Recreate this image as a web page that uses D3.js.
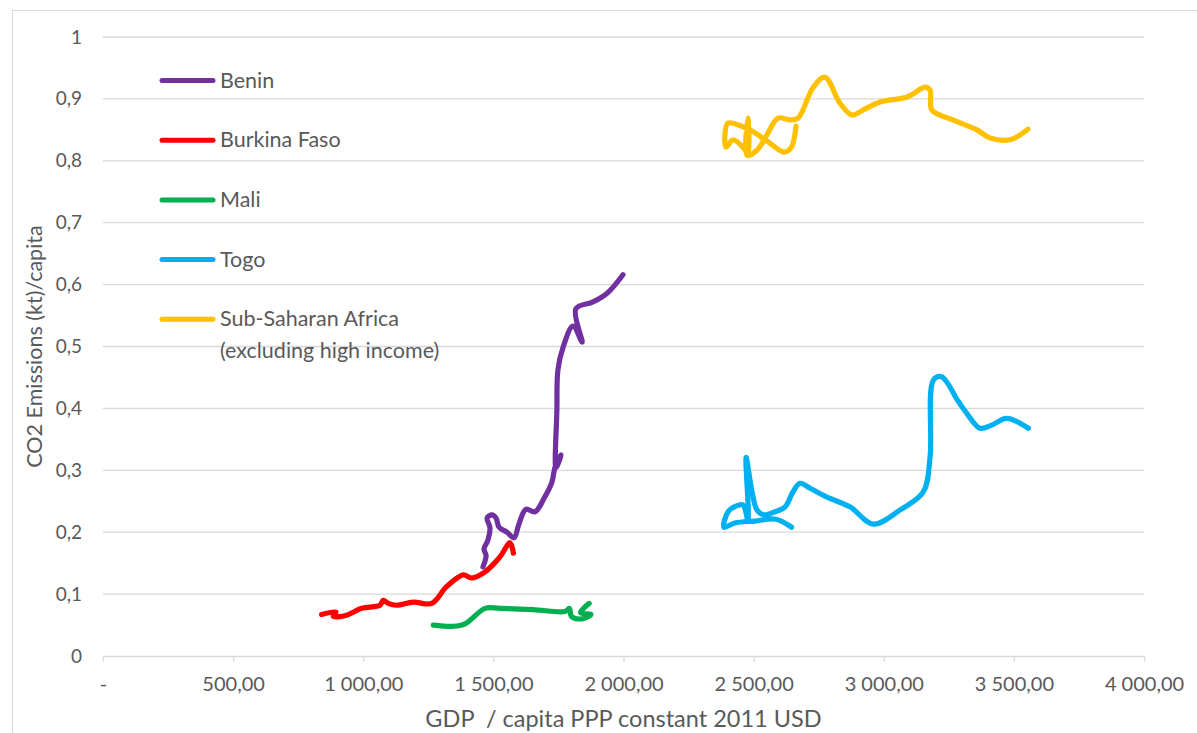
<!DOCTYPE html>
<html>
<head>
<meta charset="utf-8">
<script src="https://cdn.jsdelivr.net/npm/d3@7"></script>
<style>
  html, body { margin: 0; padding: 0; background: #fff; }
  svg { display: block; }
  text { font-family: Lato, "Liberation Sans", sans-serif; fill: #595959; }
</style>
</head>
<body>
<svg id="chart" width="1197" height="733"></svg>
<script>
// GDP per capita (PPP, constant 2011 USD) against CO2 emissions per capita
const beninGdp = [1460, 1472, 1464, 1479, 1487, 1476, 1495, 1510, 1522, 1552, 1579, 1598, 1625, 1660, 1695, 1725, 1737, 1760, 1741, 1744, 1748, 1768, 1806, 1841, 1817, 1883, 1937, 1998];
const beninCo2 = [0.144, 0.162, 0.173, 0.187, 0.207, 0.223, 0.228, 0.223, 0.208, 0.200, 0.191, 0.213, 0.237, 0.233, 0.255, 0.281, 0.305, 0.325, 0.304, 0.397, 0.462, 0.499, 0.533, 0.507, 0.561, 0.572, 0.586, 0.616];

const burkinaGdp = [840, 895, 885, 936, 994, 1064, 1077, 1096, 1128, 1192, 1263, 1320, 1384, 1416, 1468, 1525, 1564, 1577];
const burkinaCo2 = [0.067, 0.071, 0.064, 0.066, 0.077, 0.082, 0.090, 0.085, 0.082, 0.087, 0.085, 0.112, 0.131, 0.126, 0.136, 0.160, 0.183, 0.166];

const maliGdp = [1269, 1346, 1391, 1468, 1525, 1653, 1775, 1792, 1800, 1840, 1875, 1835, 1868];
const maliCo2 = [0.050, 0.048, 0.052, 0.077, 0.077, 0.075, 0.072, 0.077, 0.064, 0.060, 0.067, 0.070, 0.085];

const togoGdp = [2646, 2586, 2505, 2428, 2386, 2402, 2432, 2459, 2478, 2471, 2494, 2513, 2540, 2582, 2621, 2651, 2678, 2717, 2780, 2870, 2960, 3063, 3152, 3178, 3191, 3222, 3287, 3319, 3370, 3415, 3472, 3556];
const togoCo2 = [0.208, 0.221, 0.218, 0.215, 0.208, 0.233, 0.242, 0.244, 0.220, 0.321, 0.265, 0.236, 0.228, 0.233, 0.241, 0.265, 0.279, 0.271, 0.257, 0.241, 0.213, 0.236, 0.265, 0.322, 0.446, 0.451, 0.411, 0.392, 0.368, 0.373, 0.384, 0.368];

const ssaGdp = [2663, 2644, 2617, 2551, 2494, 2459, 2402, 2390, 2394, 2421, 2459, 2478, 2478, 2475, 2513, 2551, 2594, 2640, 2671, 2728, 2774, 2832, 2878, 2920, 2986, 3089, 3159, 3178, 3185, 3266, 3358, 3408, 3485, 3554];
const ssaCo2 = [0.856, 0.821, 0.814, 0.832, 0.848, 0.855, 0.861, 0.842, 0.822, 0.834, 0.822, 0.813, 0.869, 0.809, 0.817, 0.842, 0.869, 0.866, 0.869, 0.918, 0.935, 0.893, 0.874, 0.882, 0.895, 0.903, 0.919, 0.914, 0.882, 0.866, 0.850, 0.837, 0.834, 0.851];

const seriesNames = ["Benin", "Burkina Faso", "Mali", "Togo", "Sub-Saharan Africa\n(excluding high income)"];
const seriesColors = ["#7030A0", "#FF0000", "#00B050", "#00B0F0", "#FFC000"];
const seriesX = [beninGdp, burkinaGdp, maliGdp, togoGdp, ssaGdp];
const seriesY = [beninCo2, burkinaCo2, maliCo2, togoCo2, ssaCo2];

const xTicks = [0, 500, 1000, 1500, 2000, 2500, 3000, 3500, 4000];
const yTicks = [0, 0.1, 0.2, 0.3, 0.4, 0.5, 0.6, 0.7, 0.8, 0.9, 1];

const xTitle = "GDP \u00a0/ capita PPP constant 2011 USD";
const yTitle = "CO2 Emissions (kt)/capita";

const svg = d3.select("#chart");
const W = 1197, H = 733;
const plot = { left: 103, right: 1144, top: 37, bottom: 656 };
const fontStack = "Lato, 'Liberation Sans', sans-serif";

const loc = d3.formatLocale({ decimal: ",", thousands: " ", grouping: [3], currency: ["", ""] });
const fmtX = v => v === 0 ? "-" : loc.format(",.2f")(v);
const fmtY = loc.format(".1~f");

const x = d3.scaleLinear().domain([0, 4000]).range([plot.left, plot.right]);
const y = d3.scaleLinear().domain([0, 1]).range([plot.bottom, plot.top]);

// chart area border
svg.append("rect")
  .attr("x", 12.5).attr("y", 10.5)
  .attr("width", W + 20).attr("height", H + 20)
  .attr("fill", "none").attr("stroke", "#d9d9d9").attr("stroke-width", 1);

// horizontal gridlines
svg.append("g")
  .selectAll("line")
  .data(yTicks.filter(d => d > 0))
  .join("line")
  .attr("x1", plot.left).attr("x2", plot.right)
  .attr("y1", d => y(d)).attr("y2", d => y(d))
  .attr("stroke", "#d9d9d9").attr("stroke-width", 1.3);

// y axis labels
const yAxis = d3.axisLeft(y).tickValues(yTicks).tickFormat(fmtY).tickSize(0).tickPadding(21);
const gy = svg.append("g").attr("transform", `translate(${plot.left},0)`).call(yAxis);
gy.select(".domain").remove();
gy.selectAll("text").attr("font-size", 19).style("font-family", fontStack).attr("fill", "#595959");

// x axis
const xAxis = d3.axisBottom(x).tickValues(xTicks).tickFormat(fmtX).tickSize(6).tickSizeOuter(0).tickPadding(15);
const gx = svg.append("g").attr("transform", `translate(0,${plot.bottom})`).call(xAxis);
gx.select(".domain").attr("stroke", "#d9d9d9").attr("stroke-width", 1.3);
gx.selectAll(".tick line").attr("stroke", "#d9d9d9").attr("stroke-width", 1.3);
gx.selectAll("text").attr("font-size", 20).style("font-family", fontStack).attr("fill", "#595959");

// axis titles
svg.append("text")
  .attr("x", (plot.left + plot.right) / 2).attr("y", 727)
  .attr("text-anchor", "middle").attr("font-size", 23.5)
  .text(xTitle);
svg.append("text")
  .attr("transform", `translate(42,${(plot.top + plot.bottom) / 2}) rotate(-90)`)
  .attr("text-anchor", "middle").attr("font-size", 21.5)
  .text(yTitle);

// series lines, smoothed
const line = d3.line()
  .x(d => x(d[0])).y(d => y(d[1]))
  .curve(d3.curveCatmullRom.alpha(0.5));

seriesNames.forEach((name, i) => {
  const pts = seriesX[i].map((v, j) => [v, seriesY[i][j]]);
  svg.append("path")
    .datum(pts)
    .attr("d", line)
    .attr("fill", "none")
    .attr("stroke", seriesColors[i])
    .attr("stroke-width", 5.2)
    .attr("stroke-linecap", "round")
    .attr("stroke-linejoin", "round");
});

// legend
const legend = svg.append("g");
seriesNames.forEach((name, i) => {
  const cy = 80.5 + i * 59.7;
  legend.append("line")
    .attr("x1", 162).attr("x2", 213)
    .attr("y1", cy).attr("y2", cy)
    .attr("stroke", seriesColors[i]).attr("stroke-width", 5)
    .attr("stroke-linecap", "round");
  const t = legend.append("text")
    .attr("x", 220).attr("y", cy + 7)
    .attr("font-size", 21.5);
  name.split("\n").forEach((part, k) => {
    t.append("tspan").attr("x", 220).attr("dy", k === 0 ? 0 : 32).text(part);
  });
});
</script>
</body>
</html>
